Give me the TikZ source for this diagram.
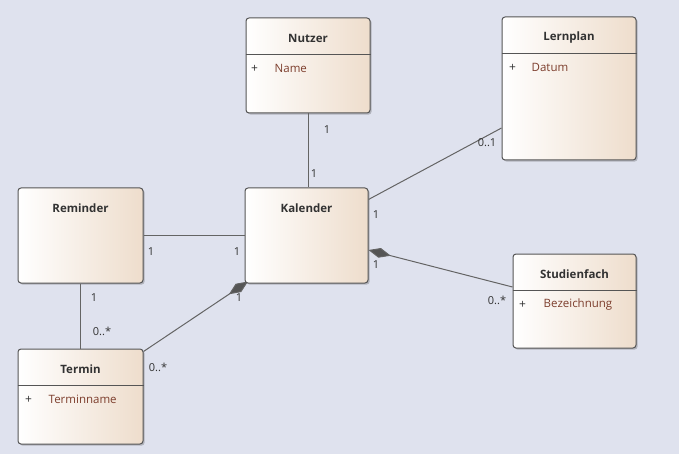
\documentclass[tikz,border=0pt]{standalone}
\usepackage{fontspec}
\setmainfont{Open Sans}
\usetikzlibrary{arrows.meta,shadows,calc}
\definecolor{bgcol}{RGB}{223,226,238}
\definecolor{beige}{RGB}{238,221,204}
\definecolor{edgecol}{RGB}{85,85,85}
\definecolor{linecol}{RGB}{100,100,100}
\definecolor{attrcol}{RGB}{125,62,45}
\definecolor{txtcol}{RGB}{50,50,50}
\tikzset{
  cls/.style={draw=edgecol, line width=1pt, rounded corners=3pt,
    left color=white, right color=beige, inner sep=0pt,
    drop shadow={shadow xshift=1.6pt, shadow yshift=-1.6pt, opacity=0.3, fill=black!70}},
  ctitle/.style={font=\fontsize{11.5}{13}\selectfont\bfseries, text=txtcol, inner sep=0pt},
  sepline/.style={draw=edgecol, line width=0.9pt},
  plus/.style={font=\fontsize{12}{13}\selectfont, text=txtcol, inner sep=0pt},
  attr/.style={font=\fontsize{11.5}{13}\selectfont, text=attrcol, inner sep=0pt, anchor=west},
  mult/.style={font=\fontsize{11}{13}\selectfont, text=txtcol, inner sep=0pt},
  conn/.style={draw=linecol, line width=1pt},
  comp/.style={-{Diamond[length=23pt,width=10pt,fill=edgecol]}}
}
\newcommand{\umlbox}[5]{\node[cls, minimum width=#4pt, minimum height=#5pt] (#1) at (#2,#3) {};}
\newcommand{\umltitle}[2]{\node[ctitle] (#1T) at ([yshift=-21pt]#1.north) {#2};}
\newcommand{\umlsep}[1]{\draw[sepline] ([yshift=-37pt]#1.north west) -- ([yshift=-37pt]#1.north east);}
\begin{document}
\begin{tikzpicture}[x=1pt,y=-1pt]
\path[fill=bgcol] (0,0) rectangle (679,454);
\useasboundingbox (0,0) rectangle (679,454);

% boxes
\umlbox{nutzer}{308}{65.5}{124}{95}
\umlbox{lernplan}{569}{88.5}{134}{143}
\umlbox{reminder}{80.5}{235.5}{125}{95}
\umlbox{termin}{80.5}{396.5}{125}{95}
\umlbox{studienfach}{574.5}{301}{123}{94}
% end point just inside Kalender's corner, so its box covers the diamond tip
\coordinate (kcorner) at (248,281.5);
\draw[conn,comp] ([yshift=-3pt]termin.north east) -- (kcorner);
\umlbox{kalender}{306.5}{235.5}{123}{95}

\umltitle{nutzer}{Nutzer}
\umltitle{lernplan}{Lernplan}
\umltitle{kalender}{Kalender}
\umltitle{reminder}{Reminder}
\umltitle{termin}{Termin}
\umltitle{studienfach}{Studienfach}

\umlsep{nutzer}
\umlsep{lernplan}
\umlsep{termin}
\umlsep{studienfach}

\node[plus] at ([xshift=9pt,yshift=-51pt]nutzer.north west) {+};
\node[attr] at ([xshift=29pt,yshift=-51pt]nutzer.north west) {Name};
\node[plus] at ([xshift=11pt,yshift=-51pt]lernplan.north west) {+};
\node[attr] at ([xshift=30pt,yshift=-51pt]lernplan.north west) {Datum};
\node[plus] at ([xshift=11pt,yshift=-51pt]termin.north west) {+};
\node[attr] at ([xshift=31pt,yshift=-51pt]termin.north west) {Terminname};
\node[plus] at ([xshift=10pt,yshift=-51pt]studienfach.north west) {+};
\node[attr] at ([xshift=31pt,yshift=-51pt]studienfach.north west) {Bezeichnung};

% connectors
\draw[conn] (nutzer.south) -- (nutzer.south |- kalender.north);
\draw[conn] ([yshift=-12pt]kalender.north east) -- ([yshift=-39.5pt]lernplan.west);
\draw[conn] (reminder.east) -- (kalender.west);
\draw[conn] (reminder.south) -- (termin.north);
\draw[conn,comp] ([yshift=14pt]studienfach.west) -- ([yshift=-14.5pt]kalender.east);

% multiplicities
\node[mult] at (327,130) {1};
\node[mult] at (314,174) {1};
\node[mult] at (487,143) {0..1};
\node[mult] at (376,215) {1};
\node[mult] at (151,252) {1};
\node[mult] at (237,252) {1};
\node[mult] at (94,298) {1};
\node[mult] at (102,331) {0..*};
\node[mult] at (239,298) {1};
\node[mult] at (158,367) {0..*};
\node[mult] at (376,265) {1};
\node[mult] at (497,300) {0..*};
\end{tikzpicture}
\end{document}
